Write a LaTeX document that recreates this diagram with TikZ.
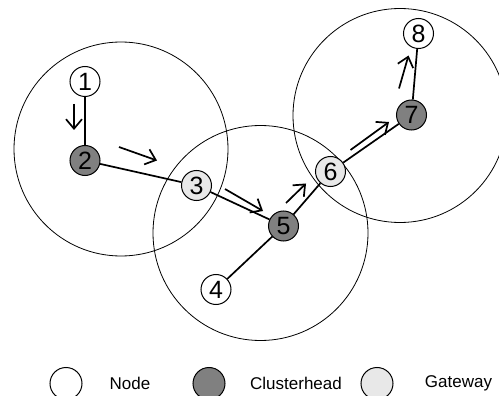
\documentclass[tikz,border=0pt]{standalone}
\usepackage{fontspec}
\setmainfont{Liberation Sans}
\usetikzlibrary{arrows.meta}
\definecolor{headgray}{RGB}{128,128,128}
\definecolor{gategray}{RGB}{232,232,232}
\tikzset{
  pnode/.style={circle,draw=black,line width=1pt,minimum size=30pt,inner sep=0pt,font=\fontsize{25}{25}\selectfont},
  nodeplain/.style={pnode,fill=white},
  nodehead/.style={pnode,fill=headgray},
  nodegate/.style={pnode,fill=gategray},
  linkline/.style={line width=1.7pt,black},
  rangecircle/.style={line width=0.8pt,black},
  flowarrow/.style={line width=1.7pt,-{Straight Barb[length=9.5pt,width=16pt,line width=1.7pt]}},
  legtext/.style={font=\fontsize{17}{17}\selectfont,anchor=center}
}
\begin{document}
\begin{tikzpicture}[x=1pt,y=-1pt]
\useasboundingbox (0,0) rectangle (499,396);
\begin{scope}
\clip (0,0) rectangle (499,396);
\draw[rangecircle] (121,149) circle (107);
\draw[rangecircle] (260.5,233) circle (107.5);
\draw[rangecircle] (400,115.5) circle (107);
\end{scope}
% nodes
\node[nodeplain] (n1) at (85,81.5) {1};
\node[nodehead]  (n2) at (85,160.5) {2};
\node[nodegate]  (n3) at (196.5,185.5) {3};
\node[nodeplain] (n4) at (216,289.5) {4};
\node[nodehead]  (n5) at (283.5,226) {5};
\node[nodegate]  (n6) at (330.5,171.5) {6};
\node[nodehead]  (n7) at (411.5,115) {7};
\node[nodeplain] (n8) at (418.5,33.5) {8};
% links
\draw[linkline] (n1) -- (n2);
\draw[linkline] (n2) -- (n3);
\draw[linkline] (n3) -- (n5);
\draw[linkline] (n4) -- (n5);
\draw[linkline] (n5) -- (n6);
\draw[linkline] (n6) -- (n7);
\draw[linkline] (n7) -- (n8);
% flow arrows
\coordinate (a1s) at (74,104);
\coordinate (a1e) at (74,130);
\coordinate (a2s) at (119,147);
\coordinate (a2e) at (157,160.5);
\coordinate (a3s) at (225,189);
\coordinate (a3e) at (263,211);
\coordinate (a4s) at (286,203);
\coordinate (a4e) at (306,183.5);
\coordinate (a5s) at (350.5,150);
\coordinate (a5e) at (389,122);
\coordinate (a6s) at (399,88.5);
\coordinate (a6e) at (408.5,55.5);
\draw[flowarrow] (a1s) -- (a1e);
\draw[flowarrow] (a2s) -- (a2e);
\draw[flowarrow] (a3s) -- (a3e);
\draw[flowarrow] (a4s) -- (a4e);
\draw[flowarrow] (a5s) -- (a5e);
\draw[flowarrow] (a6s) -- (a6e);
% legend
\begin{scope}
\clip (0,0) rectangle (499,396);
\node[pnode,fill=white,minimum size=32pt] (l1) at (66,383.5) {};
\node[pnode,fill=headgray,minimum size=32pt] (l2) at (209,383.5) {};
\node[pnode,fill=gategray,minimum size=32pt] (l3) at (377,383.5) {};
\end{scope}
\node[legtext] (t1) at (130,383.5) {Node};
\node[legtext] (t2) at (296,383.5) {Clusterhead};
\node[legtext] (t3) at (458.5,383.5) {Gateway};
\end{tikzpicture}
\end{document}
